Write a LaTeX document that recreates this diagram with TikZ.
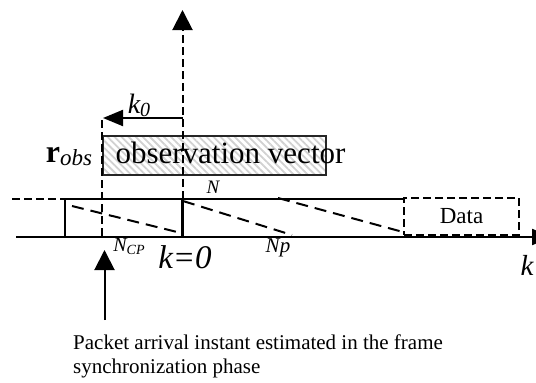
\documentclass[tikz,border=0pt]{standalone}
\usepackage{fontspec}
\setmainfont{Liberation Serif}
\usetikzlibrary{arrows.meta,patterns.meta}
\begin{document}
\begin{tikzpicture}[x=1pt,y=-1pt,
  solidline/.style={line width=2.2pt},
  dashline/.style={line width=2pt,dash pattern=on 8pt off 4pt},
  diagline/.style={line width=2pt,dash pattern=on 12pt off 7pt},
  lbl/.style={inner sep=0pt,anchor=center},
  bigtri/.style={-{Triangle[length=20pt,width=20pt]}}]
\clip (0,0) rectangle (536,383);
% coordinates
\coordinate (topTip) at (182.5,10);
\coordinate (topBase) at (182.5,199);
\coordinate (divTop) at (182.5,199);
\coordinate (divBot) at (182.5,237);
\coordinate (leftTop) at (102,120);
\coordinate (leftBot) at (102,237);
\coordinate (k0start) at (182.5,118);
\coordinate (k0end) at (103,118);
\coordinate (axL) at (16,237);
\coordinate (axR) at (552,237);
\coordinate (fTL) at (65,199);
\coordinate (fBL) at (65,237);
\coordinate (fTR) at (403,199);
\coordinate (preL) at (12,199);
\coordinate (d1a) at (72,206);
\coordinate (d1b) at (177,232);
\coordinate (d2a) at (183,201);
\coordinate (d2b) at (292,235);
\coordinate (d3a) at (278,198);
\coordinate (d3b) at (403,232);
\coordinate (upBot) at (104.5,320);
\coordinate (upTip) at (104.5,250);
% observation box
\node[draw=black!85,line width=2.2pt,
  pattern={Lines[angle=-45,distance=5pt,line width=1.8pt]},pattern color=black!18,
  minimum width=223pt,minimum height=39pt,inner sep=0pt,anchor=north west]
  (obsbox) at (102,135) {};
\node[lbl,font=\fontsize{31}{31}\selectfont] (obstext) at (230.5,153) {observation vector};
% dashed verticals
\draw[dashline] (leftTop) -- (leftBot);
\draw[dashline,bigtri] (topBase) -- (topTip);
% k0 arrow
\draw[line width=2pt,-{Triangle[length=20pt,width=16pt]}] (k0start) -- (k0end);
\node[lbl,font=\fontsize{28}{28}\selectfont\itshape] (k0) at (139,105) {k\raisebox{-3pt}{\fontsize{20}{20}\selectfont 0}};
% r_obs
\node[lbl] (robs) at (69,157) {{\fontsize{32}{32}\selectfont\textbf{r}}{\fontsize{23}{23}\selectfont\raisebox{-3pt}{\textit{obs}}}};
% frame
\draw[dashline] (preL) -- (fTL);
\draw[solidline] (fBL) -- (fTL) -- (fTR);
\draw[solidline] (divTop) -- (divBot);
\draw[solidline,-{Triangle[length=20pt,width=16pt]}] (axL) -- (axR);
\draw[diagline] (d1a) -- (d1b);
\draw[diagline] (d2a) -- (d2b);
\draw[diagline] (d3a) -- (d3b);
% Data box
\node[draw,dashline,minimum width=115pt,minimum height=37pt,inner sep=0pt,anchor=north west,
  font=\fontsize{23}{23}\selectfont] (data) at (403,197) {Data};
% labels
\node[lbl,font=\fontsize{19}{19}\selectfont\itshape] (Nlbl) at (213,187) {N};
\node[lbl,font=\fontsize{20}{20}\selectfont\itshape] (Ncp) at (129,247) {N\raisebox{-3pt}{\fontsize{14}{14}\selectfont CP}};
\node[lbl,font=\fontsize{33}{33}\selectfont\itshape] (kzero) at (185,257) {k=0};
\node[lbl,font=\fontsize{21}{21}\selectfont\itshape] (Np) at (278,248) {Np};
\node[lbl,font=\fontsize{29}{29}\selectfont\itshape] (klbl) at (527,265) {k};
% upward arrow
\draw[line width=2pt,bigtri] (upBot) -- (upTip);
\node[anchor=north west,inner sep=0pt,align=left,font=\fontsize{21}{24}\selectfont] (caption) at (73,335)
  {Packet arrival instant estimated in the frame\\synchronization phase};
\end{tikzpicture}
\end{document}
